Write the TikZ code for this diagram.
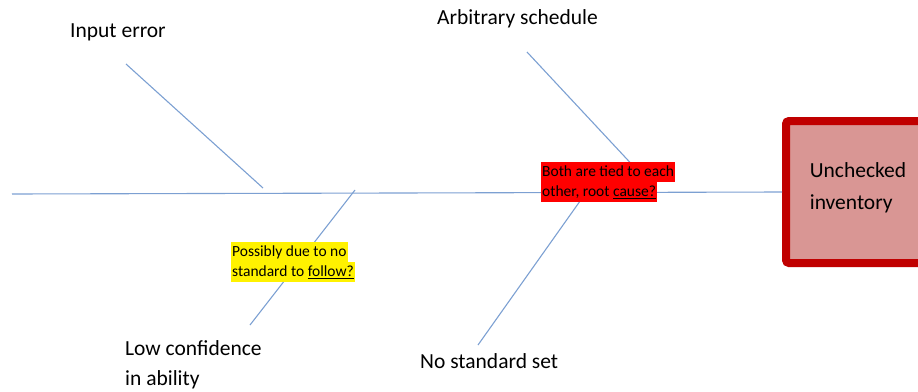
\documentclass[tikz,border=0pt]{standalone}
\usepackage{fontspec}
\setmainfont{Carlito}
\usepackage{xcolor}
\usetikzlibrary{positioning}
\definecolor{bonecol}{RGB}{124,160,210}
\definecolor{headfill}{RGB}{217,150,148}
\definecolor{headdraw}{RGB}{192,0,0}

\begin{document}
\begin{tikzpicture}[x=1pt, y=-1pt,
      bone/.style={draw=bonecol, line width=1.1pt},
      cause/.style={font=\fontsize{21.5}{30}\selectfont, inner sep=0pt, anchor=west},
      note/.style={font=\fontsize{15.5}{20}\selectfont, inner xsep=1pt, inner ysep=0.25pt,
                   text height=14.5pt, text depth=4.5pt, anchor=north west, text=black},
      head/.style={draw=headdraw, fill=headfill, line width=8pt, rounded corners=3pt}
    ]
      \useasboundingbox (0,0) rectangle (918,391);
      \clip (0,0) rectangle (918,391);

      % spine and head
      \coordinate (tail) at (12,194);
      \node[head, minimum width=150pt, minimum height=142pt, anchor=north west] (effect) at (782,117) {};
      \node[font=\fontsize{21.5}{32}\selectfont, align=left, inner sep=0pt] (effecttxt) at (858,188) {Unchecked\\inventory};
      \draw[bone] (tail) -- (effect.west);

      % upper bones
      \coordinate (b1top) at (126,64);
      \coordinate (b1end) at (263,188);
      \draw[bone] (b1top) -- (b1end);
      \coordinate (b2top) at (527,52);
      \coordinate (b2end) at (652,186);
      \draw[bone] (b2top) -- (b2end);

      % lower bones
      \coordinate (b3end) at (355,190);
      \coordinate (b3bot) at (250,325);
      \draw[bone] (b3end) -- (b3bot);
      \coordinate (b4end) at (590,187);
      \coordinate (b4bot) at (478,345);
      \draw[bone] (b4end) -- (b4bot);

      % cause labels
      \node[cause] (inerr) at (70,32) {Input error};
      \node[cause] (arbsch) at (437,19) {Arbitrary schedule};
      \node[cause, align=left, anchor=north west] (lowconf) at (125,340) {Low confidence\\in ability};
      \node[cause] (nostd) at (420,361) {No standard set};

      % notes (highlighted line by line)
      \node[note, fill=red] (root1) at (541,162) {Both are tied to each};
      \node[note, fill=red] (root2) at (root1.south west) {other, root \underline{cause?}};
      \node[note, fill=yellow] (follow1) at (231,242) {Possibly due to no};
      \node[note, fill=yellow] (follow2) at (follow1.south west) {standard to \underline{follow?}};
    \end{tikzpicture}
\end{document}
